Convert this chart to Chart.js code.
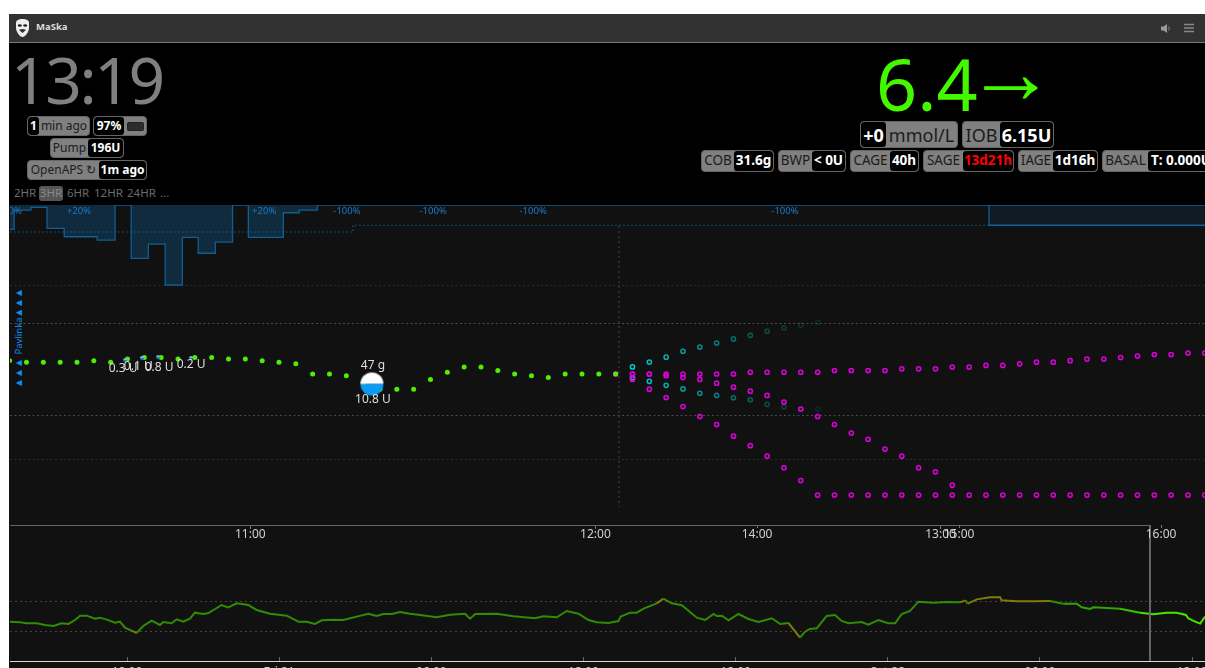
<!DOCTYPE html>
<html>
<head>
<meta charset="utf-8">
<script src="https://cdn.jsdelivr.net/npm/chart.js@4"></script>
<style>
html,body{margin:0;padding:0;background:#fff;width:1205px;height:668px;overflow:hidden;font-family:"Noto Sans",sans-serif}
.abs{position:absolute}
#bar{left:9px;top:14px;width:1196px;height:28px;background:#323232;border-bottom:1px solid #777}
#top{left:9px;top:43px;width:1196px;height:162px;background:#000}
#panel{left:9px;top:205px;width:1196px;height:463px;background:#111}
canvas{position:absolute;display:block}
.pill{position:absolute;display:flex;box-sizing:border-box;border:1px solid #666;border-radius:4px;overflow:hidden;background:#808080;white-space:nowrap;align-items:stretch;line-height:1}
.pill span{display:flex;align-items:center;justify-content:center;color:#1c1c1c}
.pill b{display:flex;flex:1;align-items:center;justify-content:center;background:#000;color:#fff;font-weight:700;border-radius:3px}
.r{font-size:12px;height:20px}
.hr{position:absolute;top:186px;font-size:11.5px;color:#6c6c6c;line-height:14px}
.tri{font-family:"DejaVu Sans",sans-serif;font-size:8px;letter-spacing:3.800px}
</style>
</head>
<body>
<div id="bar" class="abs"></div>
<div id="top" class="abs"></div>
<div id="panel" class="abs"></div>

<svg class="abs" style="left:15px;top:18px" width="15" height="20" viewBox="0 0 15 20"><path d="M1 5C1 2 4 1 7.500 1S14 2 14 5V10C14 14 10 19 7.500 19S1 14 1 10Z" fill="#eee"/><ellipse cx="4.800" cy="7.500" rx="2" ry="1.300" fill="#222"/><ellipse cx="10.200" cy="7.500" rx="2" ry="1.300" fill="#222"/><path d="M4 12Q7.500 10 11 12L7.500 15Z" fill="#333"/></svg>
<div class="abs" style="left:36px;top:20px;font-size:9.500px;font-weight:700;color:#ddd;line-height:14px">MaSka</div>
<svg class="abs" style="left:1161px;top:23px" width="11" height="11" viewBox="0 0 11 11"><path d="M0 3.500H2.500L6 1V10L2.500 7.500H0Z" fill="#999"/><path d="M7.500 3.500Q9.500 5.500 7.500 7.500" stroke="#888" fill="none"/></svg>
<svg class="abs" style="left:1184px;top:23px" width="10" height="10" viewBox="0 0 10 10"><path d="M0 1.500H10M0 5H10M0 8.500H10" stroke="#888" stroke-width="1.600"/></svg>

<div class="abs" style="left:11px;top:35px;font-size:64px;font-weight:400;color:#808080;line-height:90px;letter-spacing:-2.400px">13:19</div>

<div class="pill r" style="left:27px;top:116px;width:63px"><b style="flex:none;width:11px">1</b><span style="flex:1">min ago</span></div>
<div class="pill r" style="left:93px;top:116px;width:54px"><b style="flex:none;width:30px">97%</b><span style="flex:1"><i style="display:block;width:15px;height:7px;background:#2c2c2c;border-radius:1.500px;border:1px solid #222"></i></span></div>
<div class="pill r" style="left:50px;top:138px;width:74px"><span style="width:37px">Pump</span><b>196U</b></div>
<div class="pill r" style="left:27px;top:160px;width:120px"><span style="width:71px">OpenAPS ↻</span><b>1m ago</b></div>
<div class="hr" style="left:14px">2HR</div>
<div class="hr" style="left:39px;width:24px;height:15px;background:#555;border-radius:3px;text-align:center;color:#888">3HR</div>
<div class="hr" style="left:67px">6HR</div>
<div class="hr" style="left:94px">12HR</div>
<div class="hr" style="left:127px">24HR</div>
<div class="hr" style="left:160px">...</div>

<div class="abs" style="left:876px;top:33px;font-size:72px;color:#44f800;line-height:100px">6.4</div>
<div class="abs" style="left:966px;top:32px;font-size:90px;color:#44f800;line-height:80px;font-family:'Liberation Sans',sans-serif">→</div>

<div class="pill" style="left:860px;top:121px;width:98px;height:27px;font-size:18px"><b style="flex:none;width:25px">+0</b><span style="flex:1">mmol/L</span></div>
<div class="pill" style="left:962px;top:121px;width:92px;height:27px;font-size:18px"><span style="width:37px">IOB</span><b>6.15U</b></div>

<div class="pill" style="left:701px;top:150px;width:73px;height:22px;font-size:13.5px"><span style="width:32px">COB</span><b>31.6g</b></div>
<div class="pill" style="left:778px;top:150px;width:68px;height:22px;font-size:13.5px"><span style="width:33px">BWP</span><b>&lt; 0U</b></div>
<div class="pill" style="left:850px;top:150px;width:69px;height:22px;font-size:13.5px"><span style="width:39px">CAGE</span><b>40h</b></div>
<div class="pill" style="left:923px;top:150px;width:91px;height:22px;font-size:13.5px"><span style="width:39px">SAGE</span><b style="color:#f00">13d21h</b></div>
<div class="pill" style="left:1018px;top:150px;width:80px;height:22px;font-size:13.5px"><span style="width:34px">IAGE</span><b>1d16h</b></div>
<div class="pill" style="left:1102px;top:150px;width:110px;height:22px;font-size:13.5px"><span style="width:47px">BASAL</span><b style="justify-content:flex-start;padding-left:3px">T: 0.000U</b></div>

<div class="abs" style="left:-31px;top:329px;width:100px;height:14px;line-height:14px;display:flex;justify-content:space-between;transform:rotate(-90deg);font-size:9.500px;color:#0a8ef0;white-space:nowrap"><span class="tri">▲▲▲</span><span>Pavlinka</span><span class="tri">▲▲▲</span></div>

<canvas id="ctxChart" width="1195" height="143" style="left:10px;top:525px"></canvas>
<canvas id="mainChart" width="1195" height="350" style="left:10px;top:205px"></canvas>

<script>
// ---------- focus chart: x in minutes after midnight, y in mmol/L ----------
const sgvTimes = [618,623,628,633,638,643,648,653,658,663,668,673,678,683,688,693,698,703,708,713,718,723,728,733,738,743,748,753,758,763,768,773,778,783,788,793,798];
const sgvValues = [7.2,7.1,7.1,7.1,7.1,7.2,7.1,7.3,7.4,7.4,7.3,7.4,7.4,7.3,7.3,7.2,7.1,7.0,6.4,6.4,6.3,5.9,5.6,5.6,5.6,6.1,6.5,6.8,6.8,6.6,6.4,6.3,6.2,6.4,6.4,6.4,6.4];

const forecastTimes = [798,803,808,813,818,823,828,833,838,843,848,853,858,863,868,873,878,883,888,893,898,903,908,913,918,923,928,933,938,943,948,953,958,963,968,973];
const iobForecast = [6.4,6.4,6.4,6.4,6.4,6.4,6.4,6.4,6.5,6.5,6.5,6.5,6.5,6.6,6.6,6.6,6.6,6.7,6.7,6.7,6.8,6.8,6.9,6.9,7.0,7.1,7.1,7.2,7.3,7.3,7.4,7.5,7.6,7.6,7.7,7.7];
const ztForecast = [null,6.4,6.4,6.3,6.2,6.1,5.9,5.7,5.5,5.3,5.0,4.7,4.4,4.1,3.8,3.6,3.3,3.1,2.8,2.7,2.4];
const uamForecast = [null,6.1,5.6,5.2,4.8,4.4,4.1,3.7,3.4,3.1,2.8,2.5,2.2,2.2,2.2,2.2,2.2,2.2,2.2,2.2,2.2,2.2,2.2,2.2,2.2,2.2,2.2,2.2,2.2,2.2,2.2,2.2,2.2,2.2,2.2,2.2];
const cobForecastHigh = [null,6.81,7.11,7.42,7.82,8.12,8.41,8.72,9.0,9.33,9.6,9.84,10.1];
const cobForecastLow = [null,6.19,6.0,5.79,5.61,5.4,5.3,5.19,5.1,4.9,4.79,4.7,4.7];

const basalTimes = [618.1,619.3,624.3,629.1,634.2,644,649.3,654.1,659.2,664.2,669.3,674,679.1,684.2,688.9,699.3,704,709.4,973];
const basalRates = [0.72,0.15,0.07,0.69,0.94,1.04,0,1.58,1.16,2.37,0.96,1.43,1.10,0,0.96,0.23,0.15,0,0];
const profileTimes = [618.1,720,973];
const profileRates = [0.8,0.6,0.6];
const scheduledTimes = [908.9,908.9,973];
const scheduledRates = [0,0.6,0.6];
const basalLabelTexts = ["-100%","+20%","+20%","-100%","-100%","-100%","-100%"];
const basalLabelTimes = [617.6,638.6,693.6,718.2,743.8,773.5,848.3];

const bolusTimes = [652.3,657.3,662.1,671.9];
const bolusValues = [7.24,7.37,7.43,7.37];
const mealTimes = [725.6];
const mealValues = [5.86];
const treatmentTexts = ["0.3 U","0.1 U","0.8 U","0.2 U","47 g","10.8 U"];
const treatmentTextTimes = [651.7,656.2,662.4,671.9,725.9,725.9];
const treatmentTextValues = [6.69,6.82,6.78,6.93,6.87,5.09];

const nowTime = 799;
const nowLineValues = [23.6,1.98];
const targetGrid = [14,10,4.42,3];
const focusTickTimes = [840,900,960];
const focusTickLabels = ["14:00","15:00","16:00"];
const staleTickTimes = [660,720,780];
const staleTickLabels = ["11:00","12:00","13:00"];

// ---------- context chart: x in hours, y in mmol/L ----------
const contextHours = [13.39,13.78,14.04,14.44,14.77,15.10,15.42,15.69,15.95,16.15,16.41,16.74,16.94,17.20,17.53,17.72,17.92,18.18,18.38,18.64,18.97,19.30,19.43,19.76,19.96,20.22,20.48,20.68,21.01,21.21,21.73,21.99,22.33,22.78,23.11,23.64,24.30,24.76,25.09,25.41,25.68,26.14,26.53,27.06,27.52,27.84,28.11,28.44,28.77,
29.16,29.56,30.21,30.74,31.33,31.53,31.73,32.58,33.24,34.09,34.42,34.95,35.34,35.80,36.20,36.52,36.98,37.38,37.47,37.84,38.10,38.37,38.89,39.15,39.48,39.88,40.47,40.80,41.13,41.26,41.46,41.72,42.11,42.51,42.90,43.43,43.76,44.08,44.54,
44.74,44.93,45.20,45.59,45.92,46.18,46.45,46.97,47.23,47.63,48.02,48.29,48.55,48.88,49.21,49.80,50.32,50.85,51.07,51.15,51.51,52.03,52.43,52.49,53.08,53.74,54.40,54.92,55.45,55.65,55.98,56.11,57.16,57.95,58.47,59.00,59.39,59.76,59.85,60.12,60.32,60.51];
const contextValues = [5.81,5.71,5.56,5.56,5.31,5.17,5.56,5.46,6.08,6.84,6.84,6.31,6.48,6.14,5.66,5.81,4.94,4.56,4.27,5.17,5.97,5.31,5.76,5.56,6.20,5.81,6.31,7.42,7.16,7.35,9.14,8.57,9.56,9.14,7.98,7.22,6.84,5.81,5.81,5.46,6.03,6.14,6.08,6.66,7.22,6.78,7.16,7.16,7.56,
7.22,6.97,6.54,7.03,7.22,6.31,7.16,7.22,6.72,6.37,6.72,6.54,7.77,7.22,6.08,5.71,5.61,5.92,6.66,7.42,7.42,8.27,9.56,10.85,9.56,9.06,6.48,6.08,7.16,6.78,6.84,6.03,7.16,6.25,5.76,6.37,5.46,5.61,3.77,
4.43,4.77,4.85,6.78,6.97,5.92,5.56,5.76,5.36,6.08,5.56,5.56,7.16,7.77,10.0,9.73,9.91,9.82,10.37,9.47,10.65,11.24,11.24,10.37,10.09,10.09,10.18,9.47,9.47,8.57,8.2,8.57,8.27,7.42,7.1,7.42,7.42,6.97,6.37,5.81,5.51,6.66];
const contextGrid = [10,4.42];
const contextTickHours = [18,24,30,36,42,48,54,60];
const contextTickLabels = ["18:00","Fri 21","06:00","12:00","18:00","Sat 22","06:00","12:00"];
const brushHours = [13.39,58.34,58.34];
const brushValues = [80,80,2];

const GREEN='#4cf000', MAGENTA='#dc00dc';
const zip=(xs,ys)=>xs.map((x,i)=>({x,y:ys[i]}));
const zero=s=>{s.paddingLeft=s.paddingRight=s.paddingTop=s.paddingBottom=0;};
const thinX=s=>{s.height=1;zero(s);};
const noWidth=s=>{s.width=0;zero(s);};

function halfDisc(r,topColor,bottomColor){
  const c=document.createElement('canvas');
  const size=Math.ceil(r*2+2);c.width=c.height=size;
  const g=c.getContext('2d'),m=size/2;
  g.fillStyle=topColor;g.beginPath();g.arc(m,m,r,Math.PI,0);g.fill();
  g.fillStyle=bottomColor;g.beginPath();g.arc(m,m,r,0,Math.PI);g.fill();
  return c;
}
const ring=(data,color,extra)=>Object.assign({type:'line',showLine:false,data,pointRadius:2.1,pointBorderWidth:1.5,pointBackgroundColor:'rgba(0,0,0,0)',pointBorderColor:color},extra||{});
const fading=(ctx)=>`rgba(0,205,205,${Math.max(0.12,1-(ctx.dataIndex-1)*0.085)})`;

const textPlugin={
  id:'textMarks',
  afterDatasetsDraw(chart){
    const {ctx,scales:{x,y,y2}}=chart;
    ctx.save();
    ctx.textAlign='center';ctx.textBaseline='middle';
    ctx.font='12px "Noto Sans",sans-serif';ctx.fillStyle='#dedede';
    treatmentTexts.forEach((t,i)=>ctx.fillText(t,x.getPixelForValue(treatmentTextTimes[i]),y.getPixelForValue(treatmentTextValues[i])));
    ctx.font='9.5px "Noto Sans",sans-serif';ctx.fillStyle='#1a7ac8';
    basalLabelTexts.forEach((t,i)=>ctx.fillText(t,x.getPixelForValue(basalLabelTimes[i]),y2.getPixelForValue(0.18)));
    ctx.restore();
  }
};

new Chart(document.getElementById('mainChart'),{
  data:{datasets:[
    {type:'line',label:'treatments',showLine:false,data:zip(mealTimes,mealValues),pointStyle:halfDisc(11.5,'#ffffff','#0a9cf5'),order:0},
    {type:'line',label:'bolus',showLine:false,data:zip(bolusTimes,bolusValues),pointStyle:halfDisc(2,'#8fb6d0','#0a7ed0'),order:1},
    {type:'line',label:'sgv',showLine:false,data:zip(sgvTimes,sgvValues),pointRadius:2.5,pointBorderWidth:0,pointBackgroundColor:GREEN,order:2},
    ring(zip(forecastTimes,iobForecast),MAGENTA,{label:'iob',order:3}),
    ring(zip(forecastTimes,ztForecast),MAGENTA,{label:'zt',order:4}),
    ring(zip(forecastTimes,uamForecast),MAGENTA,{label:'uam',order:5}),
    ring(zip(forecastTimes,cobForecastHigh),fading,{label:'cobHigh',order:6}),
    ring(zip(forecastTimes,cobForecastLow),fading,{label:'cobLow',order:7}),
    {type:'line',label:'now',data:zip([nowTime,nowTime],nowLineValues),borderColor:'#3e3e3e',borderWidth:1.2,borderDash:[2,3],pointRadius:0,order:8},
    {type:'line',label:'basal',xAxisID:'x',yAxisID:'y2',data:zip(basalTimes,basalRates),stepped:true,borderColor:'#0e5f97',borderWidth:1.3,fill:{value:0},backgroundColor:'rgba(15,110,180,0.28)',pointRadius:0,order:9},
    {type:'line',label:'scheduled',yAxisID:'y2',data:zip(scheduledTimes,scheduledRates),borderColor:'#0f5f9e',borderWidth:1.3,fill:{value:0},backgroundColor:'rgba(15,110,180,0.11)',pointRadius:0,order:10},
    {type:'line',label:'profile',yAxisID:'y2',data:zip(profileTimes,profileRates),stepped:true,borderColor:'#12608f',borderWidth:1.2,borderDash:[1.5,2.5],pointRadius:0,order:11}
  ]},
  options:{
    responsive:false,animation:false,devicePixelRatio:1,
    layout:{autoPadding:false,padding:{left:0,right:0,top:0,bottom:28}},
    plugins:{legend:{display:false},tooltip:{enabled:false}},
    scales:{
      x:{type:'linear',position:'bottom',min:618.1,max:973.06,
        afterBuildTicks:s=>{s.ticks=focusTickTimes.map(value=>({value}));},
        afterFit:thinX,
        grid:{drawOnChartArea:false,tickLength:3,tickColor:'#777'},border:{display:false},
        ticks:{mirror:true,autoSkip:false,maxRotation:0,padding:-17.2,color:'#d2d2d2',font:{size:12,family:'"Noto Sans",sans-serif'},
          callback:v=>focusTickLabels[focusTickTimes.indexOf(v)]}},
      x2:{type:'linear',axis:'x',position:'bottom',min:618.22,max:825.98,
        afterBuildTicks:s=>{s.ticks=staleTickTimes.map(value=>({value}));},
        afterFit:thinX,
        grid:{drawOnChartArea:false,tickLength:3,tickColor:'#777'},border:{display:false},
        ticks:{mirror:true,autoSkip:false,maxRotation:0,padding:-16.2,color:'#d2d2d2',font:{size:12,family:'"Noto Sans",sans-serif'},
          callback:v=>staleTickLabels[staleTickTimes.indexOf(v)]}},
      y:{type:'logarithmic',position:'left',min:1.69,max:28.4,bounds:'data',
        afterBuildTicks:s=>{s.ticks=targetGrid.map(value=>({value}));},
        afterFit:noWidth,
        ticks:{display:false},border:{display:false,dash:[2,2.5]},
        grid:{drawTicks:false,lineWidth:1,color:c=>(c.tick&&(c.tick.value===10||c.tick.value===4.42))?'#4a4a4a':'#2c2c2c'}},
      y2:{type:'linear',position:'left',reverse:true,min:0,max:9.48,display:false}
    }
  },
  plugins:[textPlugin]
});

function contextColor(i){
  const h=contextHours[i],v=contextValues[i];
  if(h>=58.3) return '#45e600';
  if(v>10||v<4.42) return '#7c7c0c';
  if(h>=57.2) return '#36c404';
  if(h>=55.4) return '#30a505';
  return '#2f8c04';
}
new Chart(document.getElementById('ctxChart'),{
  data:{datasets:[
    {type:'line',label:'sgvContext',data:zip(contextHours,contextValues),borderWidth:2,pointRadius:0,
      borderColor:'#2f8c04',segment:{borderColor:c=>contextColor(c.p1DataIndex)},order:1},
    {type:'line',label:'brush',data:zip(brushHours,brushValues),borderColor:'#666',borderWidth:2,pointRadius:0,clip:false,order:0}
  ]},
  options:{
    responsive:false,animation:false,devicePixelRatio:1,
    layout:{autoPadding:false,padding:0},
    plugins:{legend:{display:false},tooltip:{enabled:false}},
    scales:{
      x:{type:'linear',position:'bottom',min:13.386,max:60.51,
        afterBuildTicks:s=>{s.ticks=contextTickHours.map(value=>({value}));},
        afterFit:s=>{s.height=7;zero(s);},
        grid:{drawOnChartArea:false,tickLength:-4,tickColor:'#666'},
        border:{color:'#d8d8d8',width:1},
        ticks:{autoSkip:false,maxRotation:0,padding:8,color:'#d2d2d2',font:{size:12,family:'"Noto Sans",sans-serif'},
          callback:v=>contextTickLabels[contextTickHours.indexOf(v)]}},
      y:{type:'logarithmic',position:'left',min:2,max:80,bounds:'data',
        afterBuildTicks:s=>{s.ticks=contextGrid.map(value=>({value}));},
        afterFit:noWidth,
        ticks:{display:false},border:{display:false,dash:[2,3]},
        grid:{drawTicks:false,color:'#444'}}
    }
  }
});
</script>
</body>
</html>
